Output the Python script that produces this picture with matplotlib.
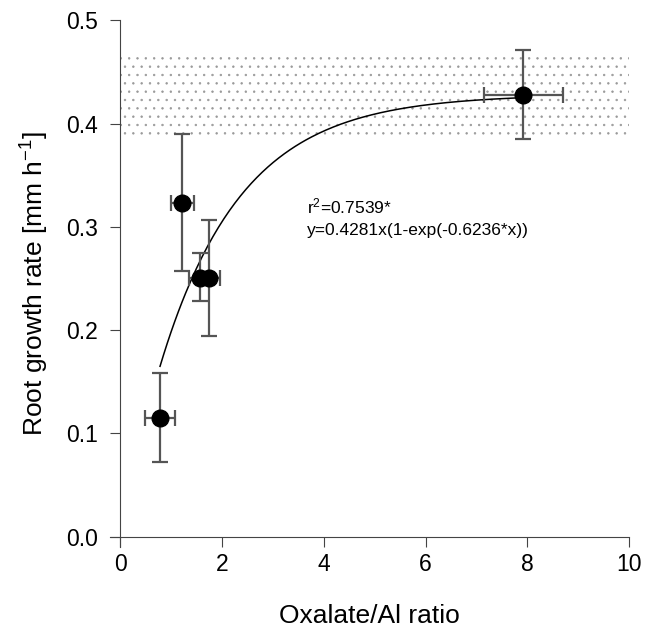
import numpy as np
import matplotlib
matplotlib.use("Agg")
from matplotlib import pyplot as plt

plt.rcParams['font.family'] = ['Liberation Sans', 'DejaVu Sans']
plt.rcParams['mathtext.fontset'] = 'custom'
plt.rcParams['mathtext.rm'] = 'Liberation Sans'
plt.rcParams['mathtext.it'] = 'Liberation Sans'
plt.rcParams['hatch.color'] = '#999999'
plt.rcParams['hatch.linewidth'] = 0.5

# data
ratio = [0.78, 1.22, 1.57, 1.75, 7.92]
ratio_err = [0.30, 0.23, 0.22, 0.20, 0.77]
growth = [0.115, 0.323, 0.250, 0.250, 0.428]
growth_lo = [0.072, 0.257, 0.228, 0.194, 0.385]
growth_hi = [0.158, 0.390, 0.275, 0.307, 0.471]

# fitted model y = a(1-exp(-b x))
fit_a = 0.4281
fit_b = 0.6236
band_lo, band_hi = 0.387, 0.468

fig = plt.figure(figsize=(6.48, 6.33), dpi=100)
ax = fig.add_axes([0.170, 0.136, 0.801, 0.832])

ax.fill_between([0, 10], band_lo, band_hi, facecolor='white', edgecolor='#999999',
                hatch='..', linewidth=0, zorder=0)

xs = np.linspace(ratio[0], ratio[-1], 200)
ax.plot(xs, fit_a * (1 - np.exp(-fit_b * xs)), color='black', lw=1.1, zorder=2)

yerr = [np.array(growth) - np.array(growth_lo), np.array(growth_hi) - np.array(growth)]
ax.errorbar(ratio, growth, xerr=ratio_err, yerr=yerr, fmt='o', color='black',
            ms=12, ecolor='#555555', elinewidth=1.6, capsize=6, capthick=1.6, zorder=3)

ax.text(3.67, 0.313, r'r$^2$=0.7539*', fontsize=12.5, va='baseline')
ax.text(3.67, 0.292, 'y=0.4281x(1-exp(-0.6236*x))', fontsize=12.5, va='baseline')

ax.set_xlim(-0.2, 10)
ax.set_ylim(-0.01, 0.5)
ax.spines['top'].set_visible(False)
ax.spines['right'].set_visible(False)
ax.spines['left'].set_position(('data', 0))
ax.spines['bottom'].set_position(('data', 0))
for s in ['left', 'bottom']:
    ax.spines[s].set_color('#444444')
ax.set_xticks([0, 2, 4, 6, 8, 10])
ax.set_yticks([0.0, 0.1, 0.2, 0.3, 0.4, 0.5])
ax.set_yticklabels(['0.0', '0.1', '0.2', '0.3', '0.4', '0.5'])
ax.tick_params(direction='out', length=7, color='#444444', labelsize=16.5)
ax.tick_params(axis='y', pad=9)
ax.tick_params(axis='x', pad=5)
ax.set_xlabel('Oxalate/Al ratio', fontsize=19, labelpad=20)
ax.set_ylabel('Root growth rate [mm h$^{-1}$]', fontsize=19, labelpad=11)

fig.savefig('out.png', dpi=100)
